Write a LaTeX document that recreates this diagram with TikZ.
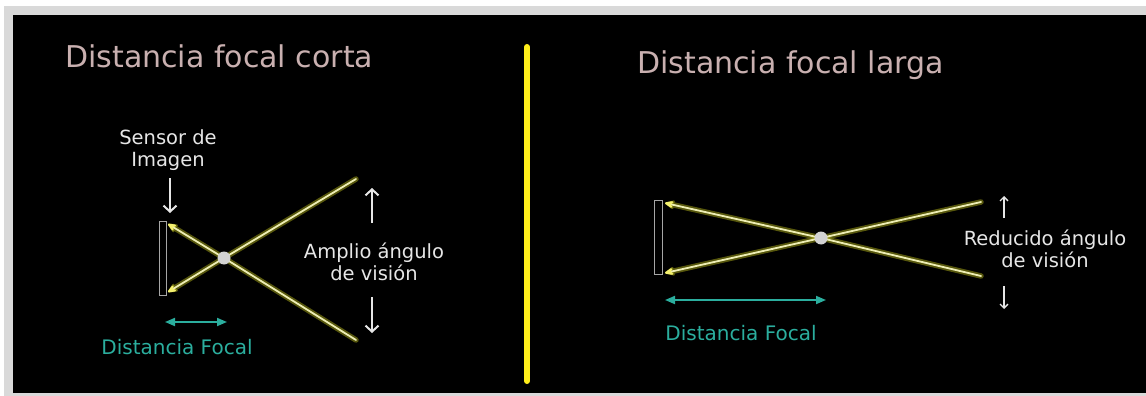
\documentclass[tikz,border=0pt]{standalone}
\usepackage{fontspec}
\setmainfont{DejaVu Sans}
\usetikzlibrary{arrows.meta}
\definecolor{titlecol}{HTML}{C9B0B0}
\definecolor{tealcol}{HTML}{2BAE9E}
\definecolor{raycore}{HTML}{EEEEB4}
\definecolor{rayglow}{HTML}{D8D820}
\definecolor{divcol}{HTML}{FFEE1A}
\definecolor{framegrey}{HTML}{D9D9D9}
\definecolor{lbl}{HTML}{E6E6E6}
\definecolor{headcol}{HTML}{F4F070}
\tikzset{
  title/.style={text=titlecol, anchor=base west, inner sep=0, font=\fontsize{30}{32}\selectfont},
  wlabel/.style={text=lbl, align=center, inner sep=0, font=\fontsize{19.5}{22}\selectfont},
  tlabel/.style={text=tealcol, anchor=base, inner sep=0, font=\fontsize{20}{22}\selectfont},
  sensorbox/.style={draw=gray!70, line width=1pt, minimum width=#1, inner sep=0},
  lens/.style={circle, fill=gray!35!white, draw=none, minimum size=13pt, inner sep=0},
  rayglowst/.style={draw=rayglow, opacity=0.4, line width=5.5pt, line cap=round,
     -{Stealth[length=13pt,width=12pt,round]}},
  raycorest/.style={draw=raycore, line width=1.8pt, line cap=round,
     -{Stealth[length=11pt,width=9pt,round,fill=headcol,color=headcol]}},
  warrow/.style={draw=lbl, line width=2pt, -{Straight Barb[length=6pt,width=13pt,line width=2pt]}},
  wsmall/.style={draw=lbl, line width=1.3pt, -{Straight Barb[length=4pt,width=8pt,line width=1.3pt]}},
  tarrow/.style={draw=tealcol, line width=1.8pt, {Triangle[length=10pt,width=8pt]}-{Triangle[length=10pt,width=8pt]}},
}
\begin{document}
\begin{tikzpicture}[x=1pt,y=-1pt]
\useasboundingbox (0,0) rectangle (1146,396);
\fill[white] (0,0) rectangle (1146,396);
\fill[framegrey] (4,6) rectangle (1146,396);
\fill[black] (13,15) rectangle (1146,393);

% divider
\coordinate (divtop) at (527,47);
\coordinate (divbot) at (527,381);
\draw[divcol, line width=6pt, line cap=round] (divtop) -- (divbot);

% ---------------- left: short focal length
\node[title] (titleL) at (65,68) {Distancia focal corta};

\node[sensorbox=7pt, minimum height=74pt] (sensorL) at (162.5,258) {};
\coordinate (lcL) at (224,258);
\coordinate (fuL) at (356,179);
\coordinate (flL) at (356,340);
\coordinate (nuL) at (168,224);
\coordinate (nlL) at (168,292);
\draw[rayglowst] (fuL) -- (lcL) -- (nlL);
\draw[rayglowst] (flL) -- (lcL) -- (nuL);
\draw[raycorest] (fuL) -- (lcL) -- (nlL);
\draw[raycorest] (flL) -- (lcL) -- (nuL);
\node[lens] (lensL) at (lcL) {};

\node[wlabel] (sensorlbl) at (168,150) {Sensor de\\Imagen};
\coordinate (sa1) at (170,178);
\coordinate (sa2) at (170,213);
\draw[warrow] (sa1) -- (sa2);

\node[wlabel] (angL) at (374,262) {Amplio ángulo\\de visión};
\coordinate (upLa) at (372,223);
\coordinate (upLb) at (372,188);
\coordinate (dnLa) at (372,297);
\coordinate (dnLb) at (372,333);
\draw[warrow] (upLa) -- (upLb);
\draw[warrow] (dnLa) -- (dnLb);

\coordinate (tL1) at (165,322);
\coordinate (tL2) at (227,322);
\draw[tarrow] (tL1) -- (tL2);
\node[tlabel] (focL) at (177,354) {Distancia Focal};

% ---------------- right: long focal length
\node[title] (titleR) at (637,74) {Distancia focal larga};

\node[sensorbox=8pt, minimum height=74pt] (sensorR) at (658,237) {};
\coordinate (lcR) at (821,238);
\coordinate (fuR) at (981,202);
\coordinate (flR) at (981,276);
\coordinate (nuR) at (665,203);
\coordinate (nlR) at (665,273);
\draw[rayglowst] (fuR) -- (lcR) -- (nlR);
\draw[rayglowst] (flR) -- (lcR) -- (nuR);
\draw[raycorest] (fuR) -- (lcR) -- (nlR);
\draw[raycorest] (flR) -- (lcR) -- (nuR);
\node[lens] (lensR) at (lcR) {};

\node[wlabel] (angR) at (1045,249) {Reducido ángulo\\de visión};
\coordinate (upRa) at (1004,218);
\coordinate (upRb) at (1004,196);
\coordinate (dnRa) at (1004,286);
\coordinate (dnRb) at (1004,309);
\draw[wsmall] (upRa) -- (upRb);
\draw[wsmall] (dnRa) -- (dnRb);

\coordinate (tR1) at (665,300);
\coordinate (tR2) at (826,300);
\draw[tarrow] (tR1) -- (tR2);
\node[tlabel] (focR) at (741,340) {Distancia Focal};
\end{tikzpicture}
\end{document}
